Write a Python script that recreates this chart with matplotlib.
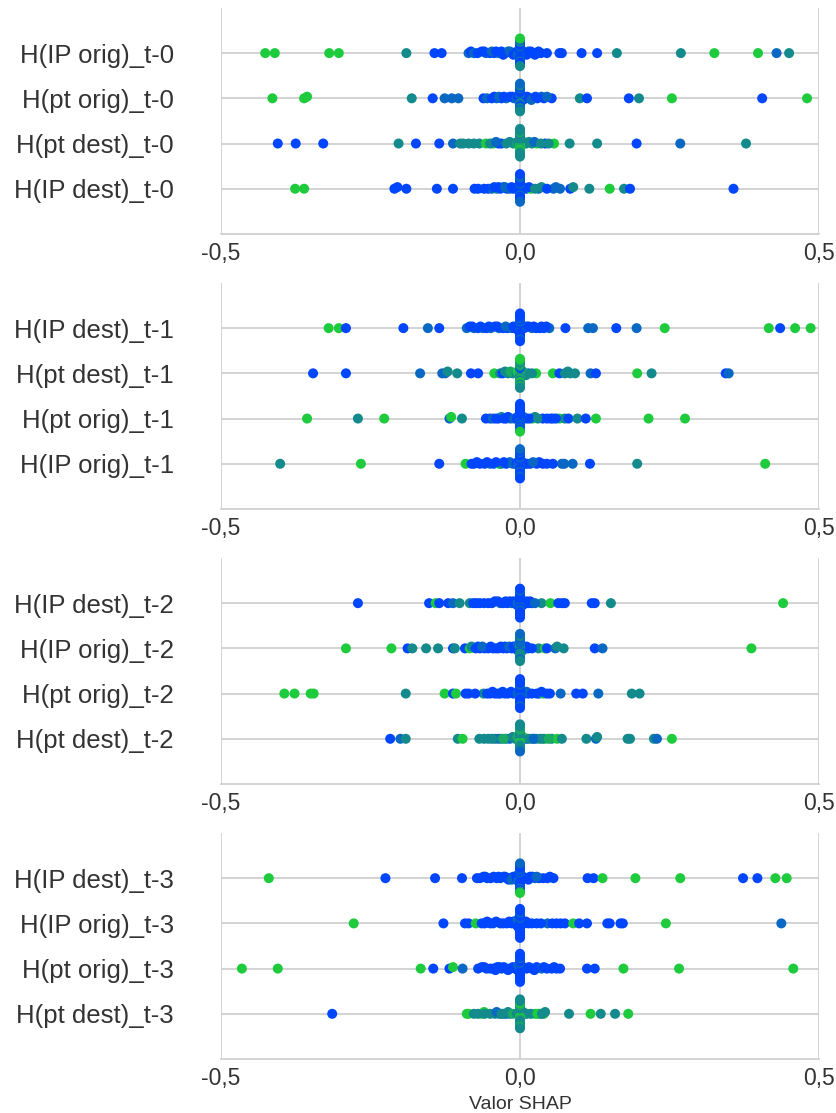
import numpy as np
import matplotlib
matplotlib.use("Agg")
from matplotlib import pyplot as plt
from matplotlib.colors import LinearSegmentedColormap

plt.rcParams["font.family"] = ["Liberation Sans", "DejaVu Sans"]

# each point: (SHAP value, feature level 0=low/blue .. 4=high/green)
# *_near: extra points crowding the dense band around zero
# *_zero: levels of the points stacked at exactly 0

# ---------- t-0 ----------
labels_t0 = ["H(IP orig)_t-0", "H(pt orig)_t-0", "H(pt dest)_t-0", "H(IP dest)_t-0"]

ip_orig_t0 = [(-0.426, 4), (-0.410, 4), (-0.319, 4), (-0.303, 4), (-0.190, 2), (-0.143, 0), (-0.131, 0),
              (-0.086, 1), (-0.082, 0), (-0.077, 1), (-0.071, 0), (-0.064, 0), (-0.057, 1), (-0.050, 0),
              (-0.043, 0), (-0.036, 1), (-0.031, 0), (-0.025, 0), (-0.020, 1), (-0.014, 0), (-0.008, 0),
              (0.008, 0), (0.014, 1), (0.021, 0), (0.028, 1), (0.035, 0), (0.045, 0), (0.066, 0), (0.070, 0),
              (0.103, 0), (0.129, 0), (0.162, 2), (0.269, 2), (0.325, 4), (0.398, 4), (0.429, 1), (0.450, 2)]
ip_orig_t0_near = [(-0.060, 0), (-0.047, 1), (-0.040, 0), (-0.028, 0), (-0.017, 1), (-0.011, 0), (-0.005, 0),
                   (-0.004, 1), (0.004, 0), (0.005, 0), (0.011, 0), (0.018, 0), (0.025, 0), (0.031, 0)]
ip_orig_t0_zero = [0, 0, 1, 0, 0, 1, 0, 0, 1, 0, 0, 2, 0, 1, 2, 4]

pt_orig_t0 = [(-0.414, 4), (-0.361, 4), (-0.356, 4), (-0.181, 2), (-0.146, 0), (-0.126, 1), (-0.114, 1),
              (-0.103, 1), (-0.061, 0), (-0.055, 1), (-0.047, 0), (-0.039, 1), (-0.031, 0), (-0.023, 1),
              (-0.017, 0), (-0.010, 1), (0.008, 1), (0.016, 0), (0.022, 1), (0.029, 0), (0.036, 1),
              (0.040, 0), (0.053, 0), (0.100, 2), (0.112, 0), (0.182, 0), (0.199, 2), (0.254, 4),
              (0.405, 0), (0.480, 4)]
pt_orig_t0_near = [(-0.043, 0), (-0.035, 1), (-0.027, 0), (-0.013, 0), (-0.006, 1), (-0.004, 0), (0.004, 1),
                   (0.005, 0), (0.012, 0), (0.019, 1), (0.026, 0), (0.045, 1)]
pt_orig_t0_zero = [0, 1, 0, 1, 2, 0, 1, 0, 0, 1, 2, 0, 1, 2, 2, 1]

pt_dest_t0 = [(-0.405, 0), (-0.375, 0), (-0.329, 0), (-0.203, 2), (-0.174, 0), (-0.135, 0), (-0.112, 1),
              (-0.100, 2), (-0.086, 2), (-0.077, 2), (-0.068, 2), (-0.057, 4), (-0.045, 4), (-0.036, 0),
              (-0.031, 0), (-0.023, 2), (-0.011, 2), (0.010, 2), (0.020, 2), (0.028, 4), (0.042, 0),
              (0.057, 4), (0.083, 2), (0.129, 2), (0.195, 0), (0.268, 1), (0.378, 2)]
pt_dest_t0_near = [(-0.095, 2), (-0.050, 2), (-0.040, 1), (-0.017, 2), (-0.005, 3), (-0.004, 2), (0.004, 2),
                   (0.006, 4), (0.015, 2), (0.024, 1), (0.035, 2), (0.048, 2)]
pt_dest_t0_zero = [4, 2, 3, 2, 3, 2, 4, 2, 3, 2, 2, 3, 2, 2, 2, 2]

ip_dest_t0 = [(-0.376, 4), (-0.361, 4), (-0.210, 0), (-0.205, 0), (-0.190, 0), (-0.139, 0), (-0.112, 0),
              (-0.076, 0), (-0.053, 0), (-0.047, 1), (-0.039, 2), (-0.033, 0), (-0.028, 1), (-0.022, 0),
              (-0.017, 1), (-0.011, 0), (0.011, 0), (0.018, 4), (0.031, 1), (0.036, 2), (0.056, 1),
              (0.067, 1), (0.084, 0), (0.089, 2), (0.116, 2), (0.150, 4), (0.174, 2), (0.184, 0), (0.357, 0)]
ip_dest_t0_near = [(-0.070, 0), (-0.060, 0), (-0.043, 0), (-0.036, 0), (-0.025, 1), (-0.014, 0), (-0.005, 0),
                   (-0.004, 0), (0.004, 0), (0.005, 1), (0.015, 0), (0.025, 2), (0.045, 0), (0.060, 1)]
ip_dest_t0_zero = [0, 0, 0, 1, 0, 0, 1, 0, 0, 0, 0, 1, 0, 1, 1, 0]

# ---------- t-1 ----------
labels_t1 = ["H(IP dest)_t-1", "H(pt dest)_t-1", "H(pt orig)_t-1", "H(IP orig)_t-1"]

ip_dest_t1 = [(-0.320, 4), (-0.303, 4), (-0.291, 0), (-0.195, 0), (-0.154, 1), (-0.135, 0), (-0.089, 1),
              (-0.084, 0), (-0.077, 1), (-0.070, 0), (-0.062, 1), (-0.056, 0), (-0.049, 1), (-0.042, 0),
              (-0.035, 1), (-0.028, 0), (-0.021, 0), (-0.014, 1), (-0.008, 0), (0.007, 0), (0.011, 0),
              (0.020, 1), (0.027, 0), (0.033, 0), (0.040, 0), (0.049, 1), (0.076, 0), (0.114, 1),
              (0.122, 1), (0.161, 0), (0.195, 1), (0.242, 4), (0.416, 4), (0.435, 0), (0.460, 4), (0.486, 4)]
ip_dest_t1_near = [(-0.080, 0), (-0.066, 0), (-0.052, 0), (-0.038, 0), (-0.024, 1), (-0.011, 0), (-0.005, 0),
                   (-0.004, 0), (0.004, 0), (0.005, 1), (0.015, 0), (0.023, 0), (0.036, 0), (0.044, 0)]
ip_dest_t1_zero = [0, 0, 1, 0, 0, 1, 0, 0, 0, 1, 0, 0, 1, 0, 0, 0]

pt_dest_t1 = [(-0.346, 0), (-0.291, 0), (-0.167, 1), (-0.130, 1), (-0.125, 1), (-0.121, 2), (-0.105, 2),
              (-0.082, 0), (-0.070, 0), (-0.043, 4), (-0.033, 2), (-0.029, 0), (-0.020, 2), (-0.012, 2),
              (0.006, 2), (0.014, 1), (0.027, 4), (0.055, 4), (0.066, 0), (0.075, 2), (0.084, 2),
              (0.092, 2), (0.118, 1), (0.127, 0), (0.196, 4), (0.220, 2), (0.344, 0), (0.349, 1)]
pt_dest_t1_near = [(-0.025, 2), (-0.016, 3), (-0.006, 2), (-0.004, 4), (0.004, 2), (0.005, 3), (0.010, 2),
                   (0.020, 2), (0.080, 2)]
pt_dest_t1_zero = [2, 3, 4, 2, 0, 3, 2, 2, 3, 4, 2, 2, 3, 3, 4, 2]

pt_orig_t1 = [(-0.356, 4), (-0.271, 2), (-0.227, 4), (-0.118, 1), (-0.115, 4), (-0.097, 2), (-0.057, 0),
              (-0.050, 0), (-0.045, 1), (-0.036, 0), (-0.031, 2), (-0.023, 0), (-0.016, 1), (0.011, 0),
              (0.021, 4), (0.025, 2), (0.038, 0), (0.051, 0), (0.055, 0), (0.066, 4), (0.075, 2),
              (0.081, 0), (0.096, 2), (0.110, 0), (0.127, 4), (0.215, 4), (0.276, 4)]
pt_orig_t1_near = [(-0.040, 0), (-0.027, 0), (-0.020, 0), (-0.010, 1), (-0.005, 0), (-0.004, 0), (0.004, 0),
                   (0.006, 1), (0.016, 0), (0.030, 2), (0.045, 0), (0.060, 0)]
pt_orig_t1_zero = [0, 0, 1, 0, 0, 0, 1, 0, 0, 0, 1, 0, 0, 0, 4, 0]

ip_orig_t1 = [(-0.401, 2), (-0.266, 4), (-0.135, 0), (-0.091, 4), (-0.081, 0), (-0.077, 0), (-0.067, 0),
              (-0.059, 0), (-0.050, 1), (-0.044, 0), (-0.035, 4), (-0.031, 2), (-0.023, 0), (-0.017, 1),
              (0.008, 0), (0.017, 0), (0.028, 0), (0.032, 0), (0.045, 0), (0.070, 1), (0.074, 1),
              (0.088, 1), (0.117, 0), (0.196, 2), (0.410, 4)]
ip_orig_t1_near = [(-0.072, 0), (-0.055, 0), (-0.040, 0), (-0.027, 0), (-0.012, 1), (-0.006, 0), (-0.004, 0),
                   (-0.003, 1), (0.004, 0), (0.012, 0), (0.022, 1), (0.038, 0), (0.055, 0)]
ip_orig_t1_zero = [0, 1, 0, 0, 1, 0, 0, 1, 0, 0, 1, 0, 0, 1, 1, 0]

# ---------- t-2 ----------
labels_t2 = ["H(IP dest)_t-2", "H(IP orig)_t-2", "H(pt orig)_t-2", "H(pt dest)_t-2"]

ip_dest_t2 = [(-0.271, 0), (-0.152, 0), (-0.141, 4), (-0.135, 0), (-0.120, 0), (-0.112, 1), (-0.101, 2),
              (-0.084, 2), (-0.073, 0), (-0.067, 0), (-0.047, 0), (-0.042, 0), (-0.033, 1), (-0.028, 0),
              (-0.021, 0), (-0.014, 1), (-0.008, 0), (0.008, 0), (0.014, 0), (0.020, 0), (0.036, 2),
              (0.051, 4), (0.064, 0), (0.070, 0), (0.075, 0), (0.120, 0), (0.125, 0), (0.152, 2), (0.440, 4)]
ip_dest_t2_near = [(-0.078, 0), (-0.060, 0), (-0.053, 0), (-0.037, 0), (-0.024, 0), (-0.017, 0), (-0.011, 0),
                   (-0.005, 0), (-0.004, 1), (0.004, 0), (0.005, 0), (0.011, 0), (0.017, 0), (0.025, 1)]
ip_dest_t2_zero = [0, 0, 0, 1, 0, 0, 0, 1, 0, 0, 0, 0, 1, 0, 0, 0]

ip_orig_t2 = [(-0.291, 4), (-0.215, 4), (-0.188, 0), (-0.180, 2), (-0.157, 2), (-0.137, 2), (-0.112, 0),
              (-0.109, 2), (-0.092, 0), (-0.084, 4), (-0.081, 2), (-0.074, 0), (-0.067, 0), (-0.059, 0),
              (-0.053, 0), (-0.045, 0), (-0.036, 0), (-0.028, 0), (-0.022, 0), (-0.014, 0), (-0.008, 0),
              (0.007, 0), (0.014, 0), (0.031, 2), (0.042, 4), (0.045, 0), (0.059, 1), (0.062, 2),
              (0.073, 2), (0.125, 0), (0.138, 1), (0.387, 4)]
ip_orig_t2_near = [(-0.070, 0), (-0.063, 1), (-0.049, 0), (-0.040, 0), (-0.032, 0), (-0.025, 0), (-0.018, 1),
                   (-0.011, 0), (-0.005, 0), (-0.004, 0), (-0.003, 1), (0.004, 0), (0.005, 1), (0.011, 0),
                   (0.020, 0)]
ip_orig_t2_zero = [1, 2, 1, 2, 1, 1, 2, 1, 2, 1, 2, 1, 1, 2, 2, 1]

pt_orig_t2 = [(-0.394, 4), (-0.377, 4), (-0.350, 4), (-0.345, 4), (-0.191, 2), (-0.126, 4), (-0.112, 0),
              (-0.107, 4), (-0.091, 0), (-0.086, 0), (-0.061, 2), (-0.050, 0), (-0.042, 0), (-0.033, 0),
              (-0.025, 0), (-0.020, 0), (-0.011, 0), (0.008, 0), (0.014, 0), (0.028, 0), (0.032, 0),
              (0.039, 4), (0.045, 0), (0.068, 1), (0.094, 0), (0.105, 0), (0.131, 1), (0.187, 2), (0.200, 2)]
pt_orig_t2_near = [(-0.075, 0), (-0.055, 0), (-0.046, 0), (-0.037, 0), (-0.029, 0), (-0.015, 0), (-0.005, 0),
                   (-0.004, 1), (0.004, 0), (0.005, 0), (0.011, 1), (0.020, 0), (0.036, 0), (0.050, 0)]
pt_orig_t2_zero = [0, 0, 0, 1, 0, 0, 0, 0, 1, 0, 0, 0, 0, 1, 0, 0]

pt_dest_t2 = [(-0.217, 0), (-0.200, 1), (-0.191, 2), (-0.104, 2), (-0.096, 4), (-0.068, 2), (-0.053, 2),
              (-0.042, 2), (-0.036, 1), (-0.031, 2), (-0.023, 2), (-0.017, 1), (-0.008, 2), (0.011, 0),
              (0.020, 2), (0.027, 2), (0.033, 2), (0.042, 4), (0.053, 2), (0.062, 4), (0.111, 2),
              (0.127, 1), (0.129, 2), (0.180, 2), (0.184, 2), (0.224, 2), (0.229, 1), (0.254, 4)]
pt_dest_t2_near = [(-0.060, 2), (-0.047, 2), (-0.027, 3), (-0.012, 2), (-0.005, 2), (-0.004, 3), (0.004, 2),
                   (0.005, 4), (0.015, 2), (0.023, 1), (0.038, 2), (0.048, 3), (0.070, 2)]
pt_dest_t2_zero = [3, 2, 3, 2, 4, 2, 3, 2, 2, 3, 2, 3, 2, 2, 1, 2]

# ---------- t-3 ----------
labels_t3 = ["H(IP dest)_t-3", "H(IP orig)_t-3", "H(pt orig)_t-3", "H(pt dest)_t-3"]

ip_dest_t3 = [(-0.420, 4), (-0.225, 0), (-0.142, 0), (-0.097, 0), (-0.067, 0), (-0.061, 0), (-0.055, 0),
              (-0.049, 0), (-0.039, 0), (-0.033, 0), (-0.028, 1), (-0.022, 0), (-0.017, 0), (-0.011, 0),
              (-0.008, 1), (0.011, 0), (0.017, 0), (0.025, 1), (0.032, 0), (0.039, 0), (0.046, 0),
              (0.056, 0), (0.113, 0), (0.123, 0), (0.138, 4), (0.193, 4), (0.268, 4), (0.373, 0),
              (0.397, 0), (0.427, 4), (0.446, 4)]
ip_dest_t3_near = [(-0.072, 0), (-0.058, 0), (-0.044, 0), (-0.036, 0), (-0.025, 0), (-0.019, 0), (-0.014, 1),
                   (-0.006, 0), (-0.005, 0), (-0.004, 0), (-0.003, 1), (0.004, 0), (0.005, 0), (0.014, 0),
                   (0.021, 0), (0.028, 1), (0.050, 0)]
ip_dest_t3_zero = [0, 0, 1, 0, 0, 0, 1, 0, 0, 1, 0, 0, 0, 2, 1, 4]

ip_orig_t3 = [(-0.278, 4), (-0.128, 0), (-0.092, 0), (-0.086, 0), (-0.074, 4), (-0.064, 0), (-0.059, 0),
              (-0.050, 0), (-0.045, 0), (-0.033, 0), (-0.022, 0), (-0.014, 0), (-0.008, 0), (0.007, 0),
              (0.014, 0), (0.028, 0), (0.046, 1), (0.061, 0), (0.075, 0), (0.089, 4), (0.099, 0),
              (0.112, 0), (0.146, 0), (0.150, 0), (0.168, 0), (0.172, 0), (0.244, 4), (0.437, 1)]
ip_orig_t3_near = [(-0.055, 0), (-0.040, 0), (-0.028, 0), (-0.018, 0), (-0.011, 0), (-0.006, 0), (-0.005, 0),
                   (-0.004, 1), (-0.003, 0), (0.004, 0), (0.010, 0), (0.020, 0), (0.035, 0), (0.054, 0),
                   (0.068, 0)]
ip_orig_t3_zero = [0, 0, 0, 0, 1, 0, 0, 0, 0, 0, 1, 0, 0, 0, 0, 0]

pt_orig_t3 = [(-0.465, 4), (-0.405, 4), (-0.166, 4), (-0.145, 0), (-0.118, 0), (-0.112, 4), (-0.096, 1),
              (-0.070, 0), (-0.064, 0), (-0.056, 0), (-0.050, 0), (-0.045, 0), (-0.038, 0), (-0.031, 0),
              (-0.023, 0), (-0.017, 0), (-0.008, 0), (0.011, 0), (0.020, 0), (0.028, 0), (0.036, 1),
              (0.045, 0), (0.053, 0), (0.061, 0), (0.067, 0), (0.112, 0), (0.125, 0), (0.173, 4),
              (0.266, 4), (0.457, 4)]
pt_orig_t3_near = [(-0.060, 0), (-0.041, 0), (-0.034, 0), (-0.027, 0), (-0.020, 0), (-0.012, 0), (-0.005, 0),
                   (-0.004, 0), (-0.003, 1), (0.004, 0), (0.005, 0), (0.015, 0), (0.024, 0), (0.040, 0),
                   (0.057, 0)]
pt_orig_t3_zero = [0, 0, 0, 1, 0, 0, 0, 0, 0, 1, 0, 0, 0, 0, 0, 0]

pt_dest_t3 = [(-0.314, 0), (-0.089, 4), (-0.086, 4), (-0.077, 2), (-0.064, 4), (-0.060, 4), (-0.059, 2),
              (-0.042, 2), (-0.035, 2), (-0.028, 2), (-0.023, 1), (-0.017, 2), (0.007, 2), (0.011, 2),
              (0.025, 4), (0.033, 2), (0.040, 4), (0.042, 2), (0.082, 2), (0.118, 4), (0.135, 2),
              (0.159, 2), (0.181, 4)]
pt_dest_t3_near = [(-0.070, 2), (-0.050, 2), (-0.039, 1), (-0.031, 2), (-0.020, 2), (-0.012, 3), (-0.005, 2),
                   (-0.004, 2), (0.004, 3), (0.005, 2), (0.018, 2), (0.029, 4), (0.037, 2)]
pt_dest_t3_zero = [2, 3, 2, 4, 2, 3, 2, 2, 3, 2, 4, 2, 2, 3, 2, 2]

xticks = [-0.5, 0.0, 0.5]
xtick_labels = ["-0,5", "0,0", "0,5"]

cmap = LinearSegmentedColormap.from_list("bg", ["#0046ff", "#138a8c", "#1ecb3c"])


def swarm(vals, row_height=0.4, nbins=100):
    # same binning/stacking as the shap beeswarm
    quant = np.round(nbins * (vals - vals.min()) / (vals.max() - vals.min() + 1e-8))
    order = np.argsort(quant, kind="stable")
    ys = np.zeros(len(vals))
    layer = 0
    last_bin = -1
    for i in order:
        if quant[i] != last_bin:
            layer = 0
        ys[i] = np.ceil(layer / 2) * ((layer % 2) * 2 - 1)
        layer += 1
        last_bin = quant[i]
    ys *= 0.9 * (row_height / np.max(ys + 1))
    return ys


def draw_panel(ax, labels, rows):
    n = len(rows)
    for i, (pts, near, zero) in enumerate(rows):
        pts = pts + near
        xs = np.array([p[0] for p in pts] + [0.0] * len(zero))
        lv = np.array([p[1] for p in pts] + list(zero)) / 4
        ys = (n - 1 - i) + swarm(xs)
        ax.scatter(xs, ys, c=cmap(lv), s=52, linewidths=0, zorder=3)
    ax.set_yticks(range(n))
    ax.set_yticklabels(labels[::-1])
    ax.set_ylim(-1, n)
    ax.set_xlim(-0.5, 0.5)
    ax.set_xticks(xticks)
    ax.set_xticklabels(xtick_labels)
    ax.set_axisbelow(True)
    ax.grid(True, color="#cccccc", linewidth=1.2)
    for side in ["top", "right", "left"]:
        ax.spines[side].set_visible(False)
    ax.spines["bottom"].set_color("#cccccc")
    ax.spines["bottom"].set_linewidth(1.2)
    ax.tick_params(axis="y", length=0, pad=34, labelsize=18.5, labelcolor="#333333")
    ax.tick_params(axis="x", length=0, pad=6, labelsize=16.5, labelcolor="#333333")


def main():
    fig = plt.figure(figsize=(8.37, 11.13), dpi=100)
    panels = [
        (labels_t0, [(ip_orig_t0, ip_orig_t0_near, ip_orig_t0_zero),
                     (pt_orig_t0, pt_orig_t0_near, pt_orig_t0_zero),
                     (pt_dest_t0, pt_dest_t0_near, pt_dest_t0_zero),
                     (ip_dest_t0, ip_dest_t0_near, ip_dest_t0_zero)]),
        (labels_t1, [(ip_dest_t1, ip_dest_t1_near, ip_dest_t1_zero),
                     (pt_dest_t1, pt_dest_t1_near, pt_dest_t1_zero),
                     (pt_orig_t1, pt_orig_t1_near, pt_orig_t1_zero),
                     (ip_orig_t1, ip_orig_t1_near, ip_orig_t1_zero)]),
        (labels_t2, [(ip_dest_t2, ip_dest_t2_near, ip_dest_t2_zero),
                     (ip_orig_t2, ip_orig_t2_near, ip_orig_t2_zero),
                     (pt_orig_t2, pt_orig_t2_near, pt_orig_t2_zero),
                     (pt_dest_t2, pt_dest_t2_near, pt_dest_t2_zero)]),
        (labels_t3, [(ip_dest_t3, ip_dest_t3_near, ip_dest_t3_zero),
                     (ip_orig_t3, ip_orig_t3_near, ip_orig_t3_zero),
                     (pt_orig_t3, pt_orig_t3_near, pt_orig_t3_zero),
                     (pt_dest_t3, pt_dest_t3_near, pt_dest_t3_zero)]),
    ]
    bottoms = [0.7898, 0.5427, 0.2956, 0.0485]
    for (labels, rows), bottom in zip(panels, bottoms):
        ax = fig.add_axes([0.264, bottom, 0.7145, 0.2031])
        draw_panel(ax, labels, rows)
    ax.set_xlabel("Valor SHAP", fontsize=14, color="#333333", labelpad=4)
    fig.savefig("out.png", dpi=100)


if __name__ == "__main__":
    main()
